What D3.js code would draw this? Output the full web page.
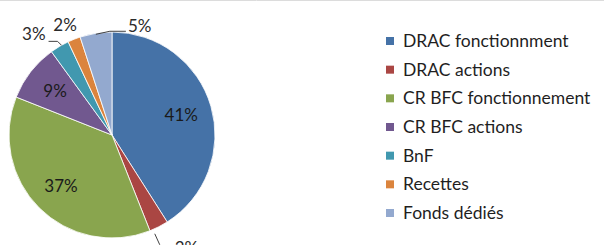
<!DOCTYPE html>
<html>
<head>
<meta charset="utf-8">
<script src="https://cdn.jsdelivr.net/npm/d3@7"></script>
<style>
  body { margin: 0; background: #fff; }
  svg { display: block; font-family: Lato, "Open Sans", sans-serif; }
</style>
</head>
<body>
<svg width="604" height="245"></svg>
<script>
// data (shares, in %)
var categories = ["DRAC fonctionnment", "DRAC actions", "CR BFC fonctionnement", "CR BFC actions", "BnF", "Recettes", "Fonds dédiés"];
var shares = [41, 3, 37, 9, 3, 2, 5];
var labels = ["41%", "3%", "37%", "9%", "3%", "2%", "5%"];
var colors = ["#4572A7", "#AA4643", "#89A54E", "#71588F", "#4198AF", "#DB843D", "#93A9CF"];

var svg = d3.select("svg"),
  width = +svg.attr("width"),
  height = +svg.attr("height"),
  cx = 112, cy = 135, radius = 103;

// thin grey rule along the top edge
svg.append("line")
  .attr("x1", 0).attr("x2", width)
  .attr("y1", 0.5).attr("y2", 0.5)
  .attr("stroke", "#dcdcdc");

var data = categories.map((c, i) => ({ name: c, value: shares[i], label: labels[i] }));

var color = d3.scaleOrdinal().domain(categories).range(colors);

var pie = d3.pie().sort(null).value(d => d.value);
var arcs = pie(data);

var arc = d3.arc().innerRadius(0).outerRadius(radius);
var inner = d3.arc().innerRadius(radius * 0.7).outerRadius(radius * 0.7);

var g = svg.append("g").attr("transform", "translate(" + cx + "," + cy + ")");

g.selectAll(".slice")
  .data(arcs)
  .enter().append("path")
    .attr("class", "slice")
    .attr("d", arc)
    .attr("fill", d => color(d.data.name))
    .attr("stroke", "#fff")
    .attr("stroke-width", 0.8);

// small slices get their label outside, some with a leader line
// offsets are relative to the point on the rim at the slice's mid angle
var callouts = {
  "DRAC actions":   { line: [[-4, 7], [1, 18]], text: [16, 27], anchor: "start" },
  "BnF":            { line: [[2, -1], [-2, -5], [-11, -5]], text: [-14, -6], anchor: "end" },
  "Recettes":       { line: null, text: [-9, -8], anchor: "middle" },
  "Fonds dédiés":   { line: [[0, 1], [14, -2], [30, -2]], text: [32, -1], anchor: "start" }
};

function rim(d) {
  var a = (d.startAngle + d.endAngle) / 2;
  return [Math.sin(a) * radius, -Math.cos(a) * radius];
}

arcs.forEach(d => {
  var c = callouts[d.data.name];
  if (!c) {
    var p = inner.centroid(d);
    g.append("text")
      .attr("x", p[0]).attr("y", p[1])
      .attr("dy", "0.35em")
      .attr("text-anchor", "middle")
      .attr("fill", "#1a1a1a")
      .style("font-size", "17px")
      .text(d.data.label);
    return;
  }
  var r = rim(d);
  if (c.line) {
    g.append("path")
      .attr("d", d3.line()(c.line.map(o => [r[0] + o[0], r[1] + o[1]])))
      .attr("fill", "none")
      .attr("stroke", "#404040")
      .attr("stroke-width", 1);
  }
  g.append("text")
    .attr("x", r[0] + c.text[0]).attr("y", r[1] + c.text[1])
    .attr("text-anchor", c.anchor)
    .attr("fill", "#2b2b2b")
    .style("font-size", "17px")
    .text(d.data.label);
});

// legend
var y = d3.scalePoint().domain(categories).range([41, 213]);

var legend = svg.selectAll(".legend")
  .data(categories)
  .enter().append("g")
    .attr("class", "legend")
    .attr("transform", d => "translate(386," + y(d) + ")");

legend.append("rect")
  .attr("x", 0).attr("y", -4)
  .attr("width", 8).attr("height", 8)
  .attr("fill", d => color(d));

legend.append("text")
  .attr("x", 17)
  .attr("dy", "0.35em")
  .attr("fill", "#1f1f1f")
  .style("font-size", "17.5px")
  .text(d => d);
</script>
</body>
</html>
